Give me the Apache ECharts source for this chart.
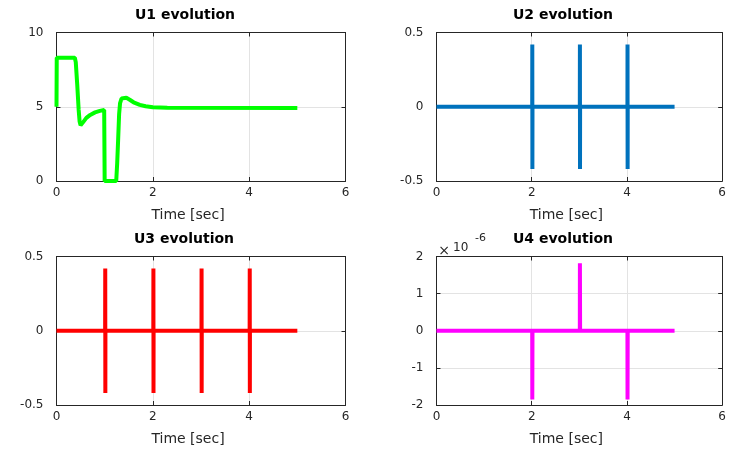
<!DOCTYPE html>
<html><head><meta charset="utf-8">
<script src="https://cdn.jsdelivr.net/npm/echarts@6/dist/echarts.min.js"></script>
<style>html,body{margin:0;padding:0;background:#fff}#c{width:729px;height:452px}</style>
</head><body><div id="c"></div>
<script>
// ---- data ----
const titles = ['U1 evolution', 'U2 evolution', 'U3 evolution', 'U4 evolution'];
const xLabel = 'Time [sec]';

const u1Time   = [0, 0.005, 0.38, 0.40, 0.43, 0.46, 0.48, 0.50, 0.55, 0.62, 0.70, 0.80, 0.90, 0.99, 1.00, 1.24, 1.26, 1.28, 1.30, 1.32, 1.35, 1.38, 1.45, 1.52, 1.60, 1.73, 1.85, 2.00, 2.30, 5.00];
const u1Values = [5.0, 8.3, 8.3, 8.0, 6.5, 4.8, 4.0, 3.75, 3.95, 4.25, 4.45, 4.62, 4.72, 4.78, 0, 0, 1.2, 2.8, 4.5, 5.25, 5.55, 5.65, 5.6, 5.47, 5.3, 5.13, 5.03, 4.97, 4.93, 4.92];

const u2Time   = [0, 2.010, 2.012, 2.014, 2.016, 3.010, 3.012, 3.014, 3.016, 4.010, 4.012, 4.014, 4.016, 5.00];
const u2Values = [0, 0, 0.42, -0.42, 0, 0, 0.42, -0.42, 0, 0, 0.42, -0.42, 0, 0];

const u3Time   = [0, 1.010, 1.012, 1.014, 1.016, 2.010, 2.012, 2.014, 2.016, 3.010, 3.012, 3.014, 3.016, 4.010, 4.012, 4.014, 4.016, 5.00];
const u3Values = [0, 0, 0.42, -0.42, 0, 0, 0.42, -0.42, 0, 0, 0.42, -0.42, 0, 0, 0.42, -0.42, 0, 0];

// U4 values in units of 1e-6
const u4Time   = [0, 2.010, 2.012, 2.014, 2.016, 3.010, 3.012, 3.014, 3.016, 4.010, 4.012, 4.014, 4.016, 5.00];
const u4Values = [0, 0, -1.85, -1.85, 0, 0, 1.82, 1.82, 0, 0, -1.85, -1.85, 0, 0];
const u4Exponent = '-6';

const yRanges = [[0, 10, 5], [-0.5, 0.5, 0.5], [-0.5, 0.5, 0.5], [-2, 2, 1]];
const colors = ['#00ff00', '#0072bd', '#ff0000', '#ff00ff'];

// ---- layout ----
const grids = [
  {left: 56.5, top: 32.5, width: 289, height: 148.5},
  {left: 436.5, top: 32.5, width: 290, height: 148.5},
  {left: 56.5, top: 256.5, width: 289, height: 148.5},
  {left: 436.5, top: 256.5, width: 290, height: 148.5}
];
const AX = '#262626';
const FONT = 'DejaVu Sans';

function zipPairs(t, v) { return t.map((x, i) => [x, v[i]]); }
const seriesData = [zipPairs(u1Time, u1Values), zipPairs(u2Time, u2Values), zipPairs(u3Time, u3Values), zipPairs(u4Time, u4Values)];

const xAxis = [], yAxis = [], series = [], graphic = [];
grids.forEach((g, i) => {
  const common = {
    type: 'value', gridIndex: i,
    axisLine: {show: true, onZero: false, lineStyle: {color: AX, width: 1}},
    axisTick: {show: true, inside: true, length: 4, lineStyle: {color: AX, width: 1}},
  };
  xAxis.push(Object.assign({}, common, {
    min: 0, max: 6, interval: 2, position: 'bottom',
    axisLabel: {color: AX, fontFamily: FONT, fontSize: 12, margin: 6},
    splitLine: {show: true, lineStyle: {color: '#e3e3e3', width: 1}},
    name: xLabel, nameLocation: 'middle', nameGap: 27,
    nameTextStyle: {color: AX, fontFamily: FONT, fontSize: 14, padding: [0, 26, 0, 0]}
  }));
  xAxis.push(Object.assign({}, common, {
    min: 0, max: 6, interval: 2, position: 'top',
    axisLabel: {show: false}, splitLine: {show: false}
  }));
  const [mn, mx, iv] = yRanges[i];
  yAxis.push(Object.assign({}, common, {
    min: mn, max: mx, interval: iv, position: 'left',
    axisLabel: {color: AX, fontFamily: FONT, fontSize: 12, margin: 13, padding: [0, 0, 4, 0]},
    splitLine: {show: true, lineStyle: {color: '#e3e3e3', width: 1}}
  }));
  yAxis.push(Object.assign({}, common, {
    min: mn, max: mx, interval: iv, position: 'right',
    axisLabel: {show: false}, splitLine: {show: false}
  }));
  series.push({
    type: 'line', xAxisIndex: 2 * i, yAxisIndex: 2 * i,
    data: seriesData[i], showSymbol: false, symbol: 'none', clip: false,
    lineStyle: {color: colors[i], width: 4}, z: 3
  });
});

const titlePos = [[185, 15], [563, 15], [184, 239], [563, 239]];
titles.forEach((t, i) => {
  graphic.push({type: 'text', x: titlePos[i][0], y: titlePos[i][1], z: 10,
    style: {text: t, fill: '#000', font: 'bold 14px "DejaVu Sans"', align: 'center', verticalAlign: 'middle'}});
});
// exponent label for U4
graphic.push({type: 'text', x: 444, y: 251, z: 10, style: {text: '×', fill: AX, font: '14px "DejaVu Sans"', align: 'center', verticalAlign: 'middle'}});
graphic.push({type: 'text', x: 453, y: 247.5, z: 10, style: {text: '10', fill: AX, font: '12px "DejaVu Sans"', align: 'left', verticalAlign: 'middle'}});
graphic.push({type: 'text', x: 475, y: 238.5, z: 10, style: {text: u4Exponent, fill: AX, font: '11px "DejaVu Sans"', align: 'left', verticalAlign: 'middle'}});

const chart = echarts.init(document.getElementById('c'), null, {renderer: 'canvas'});
chart.setOption({
  animation: false,
  backgroundColor: '#fff',
  grid: grids.map(g => Object.assign({containLabel: false}, g)),
  xAxis, yAxis, series, graphic
});
</script></body></html>
